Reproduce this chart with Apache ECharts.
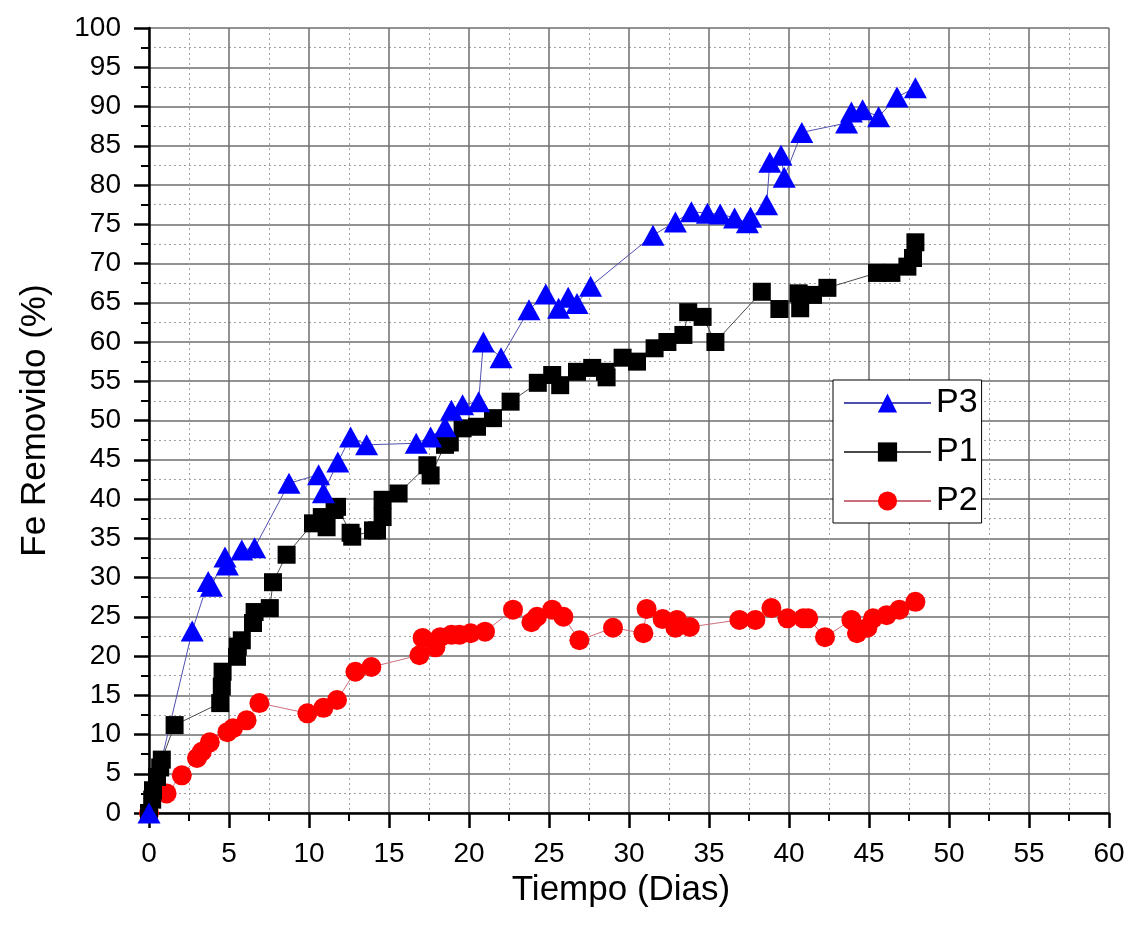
<!DOCTYPE html>
<html>
<head>
<meta charset="utf-8">
<script src="https://cdn.jsdelivr.net/npm/echarts@6/dist/echarts.min.js"></script>
<style>
  html, body { margin: 0; padding: 0; background: #fff; }
  #chart { width: 1134px; height: 932px; }
</style>
</head>
<body>
<div id="chart"></div>
<script>
// Fe removal (%) over time (days) for three runs
const p3Days = [0, 2.7, 3.7, 3.9, 4.75, 4.9, 5.8, 6.6, 8.75, 10.6, 10.9, 11.8, 12.6, 13.6, 16.7, 17.6, 18.5, 18.9, 19.6, 20.6, 20.9, 22.0, 23.75, 24.8, 25.6, 26.2, 26.75, 27.6, 31.5, 32.9, 33.9, 34.9, 35.7, 36.6, 37.4, 37.6, 38.6, 38.8, 39.5, 39.7, 40.8, 43.6, 43.9, 44.6, 45.6, 46.75, 47.9];
const p3Removal = [0, 23.2, 29.5, 28.9, 32.6, 31.6, 33.5, 33.8, 42.0, 43.1, 40.8, 44.7, 47.9, 46.9, 47.1, 47.9, 49.2, 51.3, 52.0, 52.4, 60.0, 58.0, 64.1, 66.1, 64.3, 65.7, 64.9, 67.1, 73.6, 75.3, 76.6, 76.4, 76.3, 75.8, 75.2, 75.9, 77.5, 82.9, 83.8, 81.0, 86.7, 87.9, 89.3, 89.6, 88.7, 91.2, 92.4];

const p1Days = [0, 0.2, 0.25, 0.5, 0.7, 0.8, 1.6, 4.45, 4.55, 4.6, 5.5, 5.55, 5.8, 6.5, 6.6, 7.55, 7.75, 8.6, 10.25, 10.8, 11.1, 11.6, 11.75, 12.6, 12.7, 14.0, 14.25, 14.6, 14.6, 15.6, 17.4, 17.6, 18.5, 18.8, 19.6, 20.5, 21.5, 22.6, 24.3, 25.2, 25.7, 26.75, 27.7, 28.5, 28.6, 29.6, 30.5, 31.6, 32.4, 33.4, 33.7, 34.6, 35.4, 38.3, 39.4, 40.6, 40.7, 41.5, 42.4, 45.5, 46.4, 47.4, 47.75, 47.9];
const p1Removal = [0, 1.7, 2.9, 4.6, 5.8, 6.8, 11.2, 14.0, 16.1, 18.0, 19.9, 21.2, 22.0, 24.2, 25.6, 26.1, 29.4, 32.9, 36.9, 37.7, 36.4, 38.6, 39.0, 35.7, 35.2, 36.0, 36.0, 37.7, 39.9, 40.7, 44.3, 43.0, 46.9, 47.2, 49.0, 49.2, 50.3, 52.4, 54.8, 55.8, 54.5, 56.2, 56.7, 56.2, 55.5, 58.0, 57.5, 59.2, 60.0, 60.9, 63.8, 63.2, 60.0, 66.4, 64.2, 66.2, 64.3, 66.0, 66.9, 68.8, 68.8, 69.6, 70.7, 72.7];

const p2Days = [0, 1.1, 2.05, 3.0, 3.3, 3.8, 4.9, 5.25, 6.1, 6.9, 9.9, 10.9, 11.75, 12.9, 13.9, 16.9, 17.1, 17.9, 18.2, 18.9, 19.4, 20.1, 21.0, 22.75, 23.9, 24.25, 25.2, 25.9, 26.9, 29.0, 30.9, 31.1, 32.1, 32.9, 33.0, 33.8, 36.9, 37.9, 38.9, 39.9, 40.9, 41.2, 42.25, 43.9, 44.25, 44.9, 45.25, 46.1, 46.9, 47.9];
const p2Removal = [0, 2.5, 4.8, 7.0, 7.8, 9.0, 10.3, 10.8, 11.8, 14.0, 12.7, 13.4, 14.4, 18.0, 18.6, 20.1, 22.3, 21.1, 22.4, 22.7, 22.7, 22.9, 23.1, 25.9, 24.3, 25.0, 25.9, 25.0, 22.0, 23.6, 22.9, 26.0, 24.7, 23.6, 24.6, 23.7, 24.6, 24.6, 26.1, 24.8, 24.8, 24.8, 22.4, 24.6, 22.9, 23.6, 24.8, 25.2, 25.9, 26.9];

const pairs = (xs, ys) => xs.map((x, i) => [x, ys[i]]);

const FONT = 'Liberation Sans, Arial, sans-serif';

const axisCommon = {
  type: 'value',
  interval: 5,
  minorTick: { show: true, splitNumber: 2, length: 8, lineStyle: { color: '#000', width: 2 } },
  axisTick: { show: true, length: 15, lineStyle: { color: '#000', width: 2.5 } },
  axisLine: { show: true, onZero: false, lineStyle: { color: '#000', width: 2.5 } },
  splitLine: { show: true, lineStyle: { color: '#6e6e6e', width: 1.5 } },
  minorSplitLine: { show: true, lineStyle: { color: '#a0a0a0', width: 1, type: [2, 3] } },
  axisLabel: { color: '#000', fontSize: 28, fontFamily: FONT },
  nameTextStyle: { color: '#000', fontSize: 35, fontFamily: FONT },
  nameLocation: 'middle'
};

const chart = echarts.init(document.getElementById('chart'), null, { renderer: 'canvas' });
chart.setOption({
  backgroundColor: '#fff',
  animation: false,
  grid: { left: 149, right: 25, top: 28, bottom: 119 },
  xAxis: Object.assign({}, axisCommon, {
    min: 0, max: 60,
    name: 'Tiempo (Dias)',
    nameGap: 54,
    nameTextStyle: Object.assign({}, axisCommon.nameTextStyle, { padding: [0, 16, 0, 0] }),
    axisLabel: Object.assign({}, axisCommon.axisLabel, { margin: 27 })
  }),
  yAxis: Object.assign({}, axisCommon, {
    min: 0, max: 100,
    name: 'Fe Removido (%)',
    nameGap: 96,
    axisLabel: Object.assign({}, axisCommon.axisLabel, { margin: 28 })
  }),
  legend: {
    orient: 'vertical',
    left: 833, top: 380,
    padding: [6, 4, 5, 10],
    itemWidth: 87, itemHeight: 24, itemGap: 15,
    backgroundColor: '#fff',
    borderColor: '#000', borderWidth: 1,
    textStyle: { color: '#000', fontSize: 34, fontFamily: FONT },
    data: ['P3', 'P1', 'P2']
  },
  series: [
    {
      name: 'P2', type: 'line', data: pairs(p2Days, p2Removal),
      symbol: 'circle', symbolSize: 20,
      itemStyle: { color: '#ff0000' },
      lineStyle: { color: '#cc6f7c', width: 1 }
    },
    {
      name: 'P1', type: 'line', data: pairs(p1Days, p1Removal),
      symbol: 'rect', symbolSize: 18,
      itemStyle: { color: '#000000' },
      lineStyle: { color: '#4a4a4a', width: 1 }
    },
    {
      name: 'P3', type: 'line', data: pairs(p3Days, p3Removal),
      symbol: 'triangle', symbolSize: [23, 21],
      itemStyle: { color: '#0000ff' },
      lineStyle: { color: '#4f4fb0', width: 1 }
    }
  ]
});
</script>
</body>
</html>
